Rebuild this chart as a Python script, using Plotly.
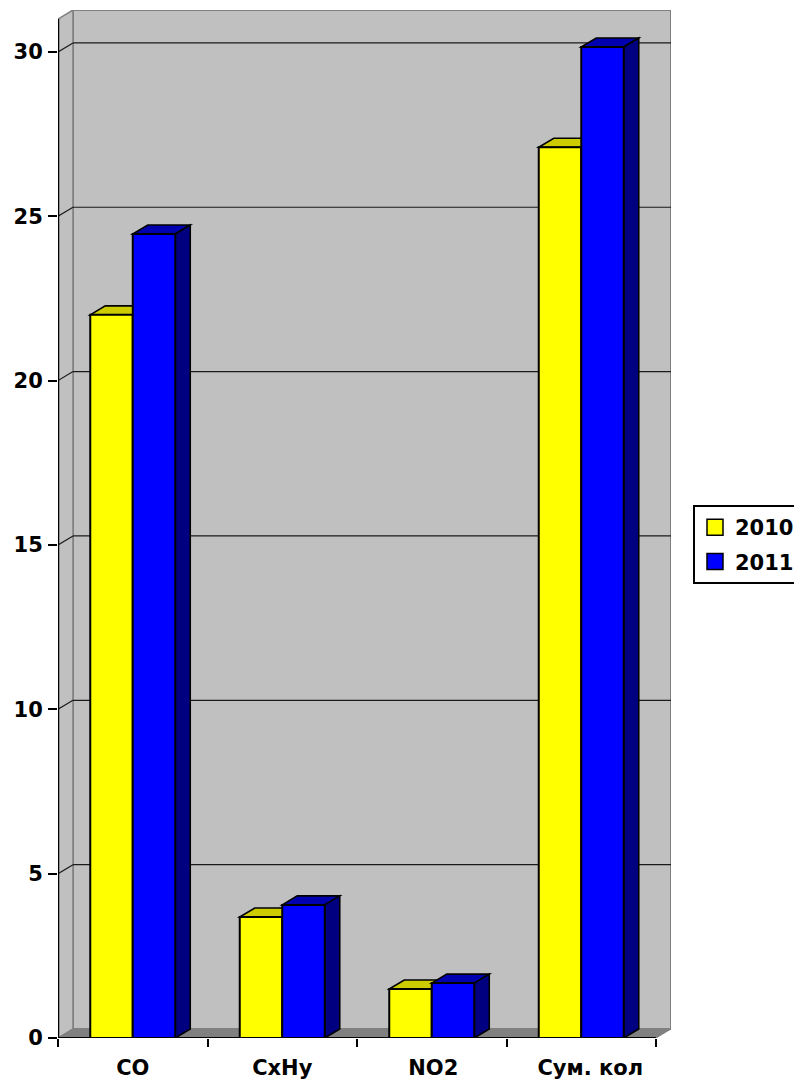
import plotly.graph_objects as go

categories = ["CO", "CxHy", "NO2", "Сум. кол"]
values_2010 = [22.0, 3.68, 1.49, 27.1]
values_2011 = [24.46, 4.05, 1.67, 30.15]
y_ticks = [0, 5, 10, 15, 20, 25, 30]
label_positions = [0.5, 1.5, 2.51, 3.56]

PAGE = 8  # the browser's page margin in front of the figure
W, H = 802 - PAGE, 1082 - PAGE
L, R, T, B = 58 - PAGE, 131, 10 - PAGE, 44
PX_X = 149.5     # px per category
PX_Y = 32.87     # px per unit
DX = 15 / PX_X   # depth offset
DY = 9 / PX_Y
BAR_W = 42.5 / PX_X
x_max = (W - L - R) / PX_X
y_max = (H - T - B) / PX_Y
N = len(categories)

def poly(pts, fill, line="rgba(0,0,0,0)", width=1):
    path = "M " + " L ".join(f"{x:.4f},{y:.4f}" for x, y in pts) + " Z"
    return dict(type="path", path=path, xref="x", yref="y", layer="below",
                fillcolor=fill, line=dict(color=line, width=width))

shapes = []
wall_grey = "#C0C0C0"
edge = "#808080"
# walls and floor
shapes.append(poly([(DX, DY), (DX, y_max), (N + DX, y_max), (N + DX, DY)], wall_grey, edge, 2))
shapes.append(poly([(0, 0), (0, y_max - DY), (DX, y_max), (DX, DY)], wall_grey, edge, 1.5))
shapes.append(poly([(0, 0), (DX, DY), (N + DX, DY), (N, 0)], edge, edge, 1))
# grid on the wall
for t in y_ticks[1:]:
    shapes.append(dict(type="line", xref="x", yref="y", layer="below",
                       x0=DX, x1=N + DX, y0=t + DY, y1=t + DY, line=dict(color="#1a1a1a", width=1.2)))
    shapes.append(dict(type="line", xref="x", yref="y", layer="below",
                       x0=0, x1=DX, y0=t, y1=t + DY, line=dict(color="#1a1a1a", width=1.2)))

# depth faces of the bars
def box(i, val, left, top_col, side_col):
    c = i + 0.5
    x0 = c + left
    x1 = x0 + BAR_W
    shapes.append(poly([(x0, val), (x0 + DX, val + DY), (x1 + DX, val + DY), (x1, val)], top_col, "#000000", 1.6))
    shapes.append(poly([(x1, 0), (x1, val), (x1 + DX, val + DY), (x1 + DX, DY)], side_col, "#000000", 1.6))

for i in range(N):
    box(i, values_2010[i], -BAR_W, "#CCCC00", "#808000")
    box(i, values_2011[i], 0, "#0000B0", "#000080")

centres = [i + 0.5 for i in range(N)]
font = dict(family="DejaVu Sans", size=21, color="#000000", weight="bold")
fig = go.Figure()
fig.add_trace(go.Bar(x=centres, y=values_2010, showlegend=False,
                     marker=dict(color="#FFFF00", line=dict(color="#000000", width=2))))
fig.add_trace(go.Bar(x=centres, y=values_2011, showlegend=False,
                     marker=dict(color="#0000FF", line=dict(color="#000000", width=2))))
fig.add_trace(go.Scatter(x=[0, 0], y=[0, y_max - DY], mode="lines", line=dict(color="#000000", width=2.5),
                         cliponaxis=False, showlegend=False, hoverinfo="skip"))
fig.add_trace(go.Scatter(x=[0, N], y=[0, 0], mode="lines", line=dict(color="#000000", width=2),
                         cliponaxis=False, showlegend=False, hoverinfo="skip"))
# legend entries with square swatches
for name, colour in (("2010", "#FFFF00"), ("2011", "#0000FF")):
    fig.add_trace(go.Scatter(x=[None], y=[None], name=name, legendgroup=name, mode="markers",
                             marker=dict(symbol="square", size=16, color=colour,
                                         line=dict(color="#000000", width=1.5))))

plot_w, plot_h = W - L - R, H - T - B
fig.update_layout(
    width=W, height=H, autosize=False,
    margin=dict(l=L, r=R, t=T, b=B, pad=0, autoexpand=False),
    paper_bgcolor="#FFFFFF", plot_bgcolor="#FFFFFF",
    barmode="group", bargap=1 - 2 * BAR_W, bargroupgap=0,
    shapes=shapes,
    xaxis=dict(range=[0, x_max], tickmode="array", tickvals=label_positions, ticktext=categories,
               ticks="", showgrid=False, zeroline=False, showline=False, tickfont=font,
               ticklabelstandoff=15,
               minor=dict(tickmode="array", tickvals=list(range(N + 1)), ticks="outside",
                          ticklen=8, tickcolor="#000000", tickwidth=2, showgrid=False)),
    yaxis=dict(range=[0, y_max], tickmode="array", tickvals=y_ticks, ticks="outside", ticklen=9,
               tickcolor="#000000", tickwidth=1.5, showgrid=False, zeroline=False, showline=False,
               tickfont=font, ticklabelstandoff=1),
    legend=dict(x=(693 - PAGE - L) / plot_w, xanchor="left", y=1 - (505 - PAGE - T) / plot_h, yanchor="top",
                bgcolor="#FFFFFF", bordercolor="#000000", borderwidth=2, font=font,
                traceorder="grouped", tracegroupgap=4, entrywidth=110, entrywidthmode="pixels"),
)
fig.write_html("out.html")
